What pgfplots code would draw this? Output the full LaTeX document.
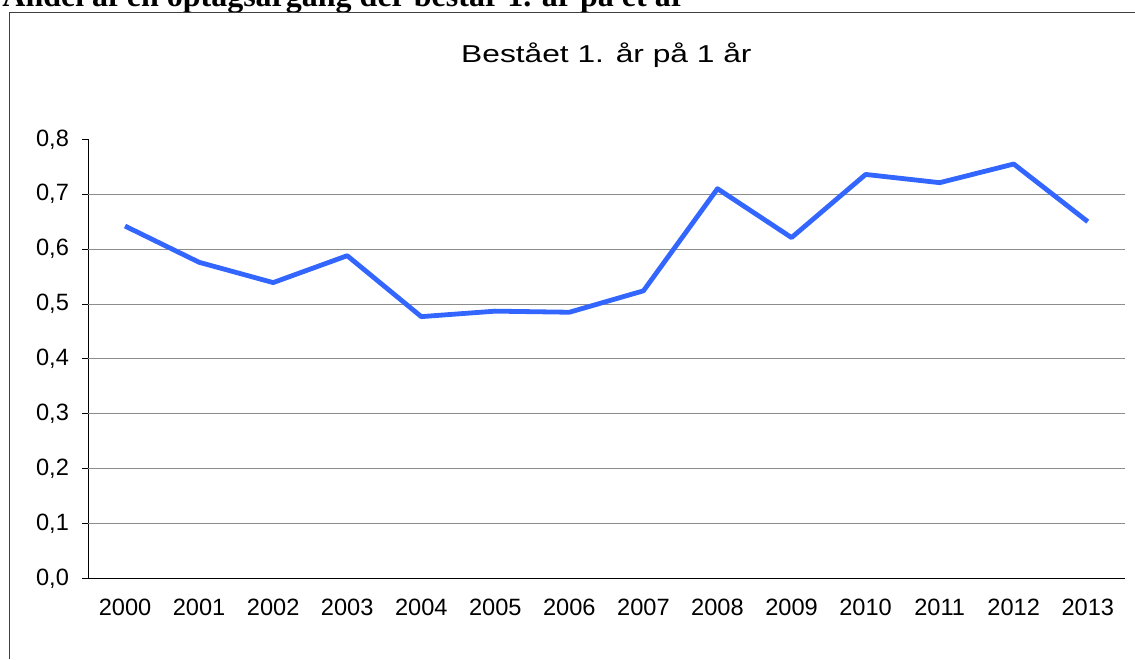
\documentclass[border=0pt]{standalone}
\usepackage{fontspec}
\setmainfont{Liberation Sans}
\newfontfamily\titlefont[FakeStretch=1.3]{Liberation Sans}
\newfontfamily\headfont{Liberation Serif}
\usepackage{pgfplots}
\pgfplotsset{compat=1.18}
\definecolor{lineblue}{HTML}{3366FF}
\definecolor{gridgray}{HTML}{8C8C8C}
\definecolor{framegray}{HTML}{404040}

\pgfplotstableread{
idx year val
0  2000 0.642
1  2001 0.576
2  2002 0.539
3  2003 0.588
4  2004 0.477
5  2005 0.487
6  2006 0.485
7  2007 0.524
8  2008 0.710
9  2009 0.621
10 2010 0.736
11 2011 0.721
12 2012 0.755
13 2013 0.650
}\passdata

\begin{document}
\begin{tikzpicture}
    % page = 1135 x 659 px, 1 px = 0.5pt
    \useasboundingbox (0,0) rectangle (567.5pt,329.5pt);

    % clipped heading above the chart frame
    \node[anchor=base west, inner sep=0pt] at (1pt,326pt)
        {\headfont\bfseries\fontsize{16}{18}\selectfont Andel af en optagsårgang der består 1. år på et år};

    % chart frame (left and top edge only visible)
    \draw[framegray, line width=0.6pt] (4.75pt,0pt) -- (4.75pt,323.25pt) -- (567.5pt,323.25pt);

    \begin{axis}[
            scale only axis,
            width=518.4pt,
            height=219.6pt,
            at={(44pt,40.25pt)},
            anchor=south west,
            xmin=-0.5, xmax=13.5,
            ymin=0, ymax=0.8,
            axis x line*=bottom,
            axis y line*=left,
            axis line style={black, line width=0.5pt, -},
            xtick={0,...,13},
            xticklabels={2000,2001,2002,2003,2004,2005,2006,2007,2008,2009,2010,2011,2012,2013},
            xtick style={draw=none},
            minor xtick={-0.5,0.5,...,13.5},
            minor x tick style={black, line width=0.5pt},
            ytick={0,0.1,...,0.8},
            ytick style={black, line width=0.5pt},
            tick align=outside,
            major tick length=3pt,
            minor tick length=3.5pt,
            extra y ticks={0.1,0.2,0.3,0.4,0.5,0.6,0.7},
            extra y tick labels={},
            extra y tick style={grid=major, major tick length=0pt},
            grid style={gridgray, line width=0.5pt},
            tick label style={font=\fontsize{11.8}{13}\selectfont},
            xticklabel style={yshift=-3.5pt},
            yticklabel style={xshift=-3pt},
            /pgf/number format/assume math mode=true,
            yticklabel style={/pgf/number format/.cd, fixed, fixed zerofill, precision=1, use comma},
            title={\titlefont\fontsize{12.2}{14}\selectfont Bestået 1. år på 1 år},
            title style={at={(0.5,1.148)}, anchor=base, inner sep=0pt},
            clip=false,
        ]
        \addplot[lineblue, line width=2.4pt, line join=round] table[x=idx, y=val] {\passdata};
    \end{axis}
\end{tikzpicture}
\end{document}
